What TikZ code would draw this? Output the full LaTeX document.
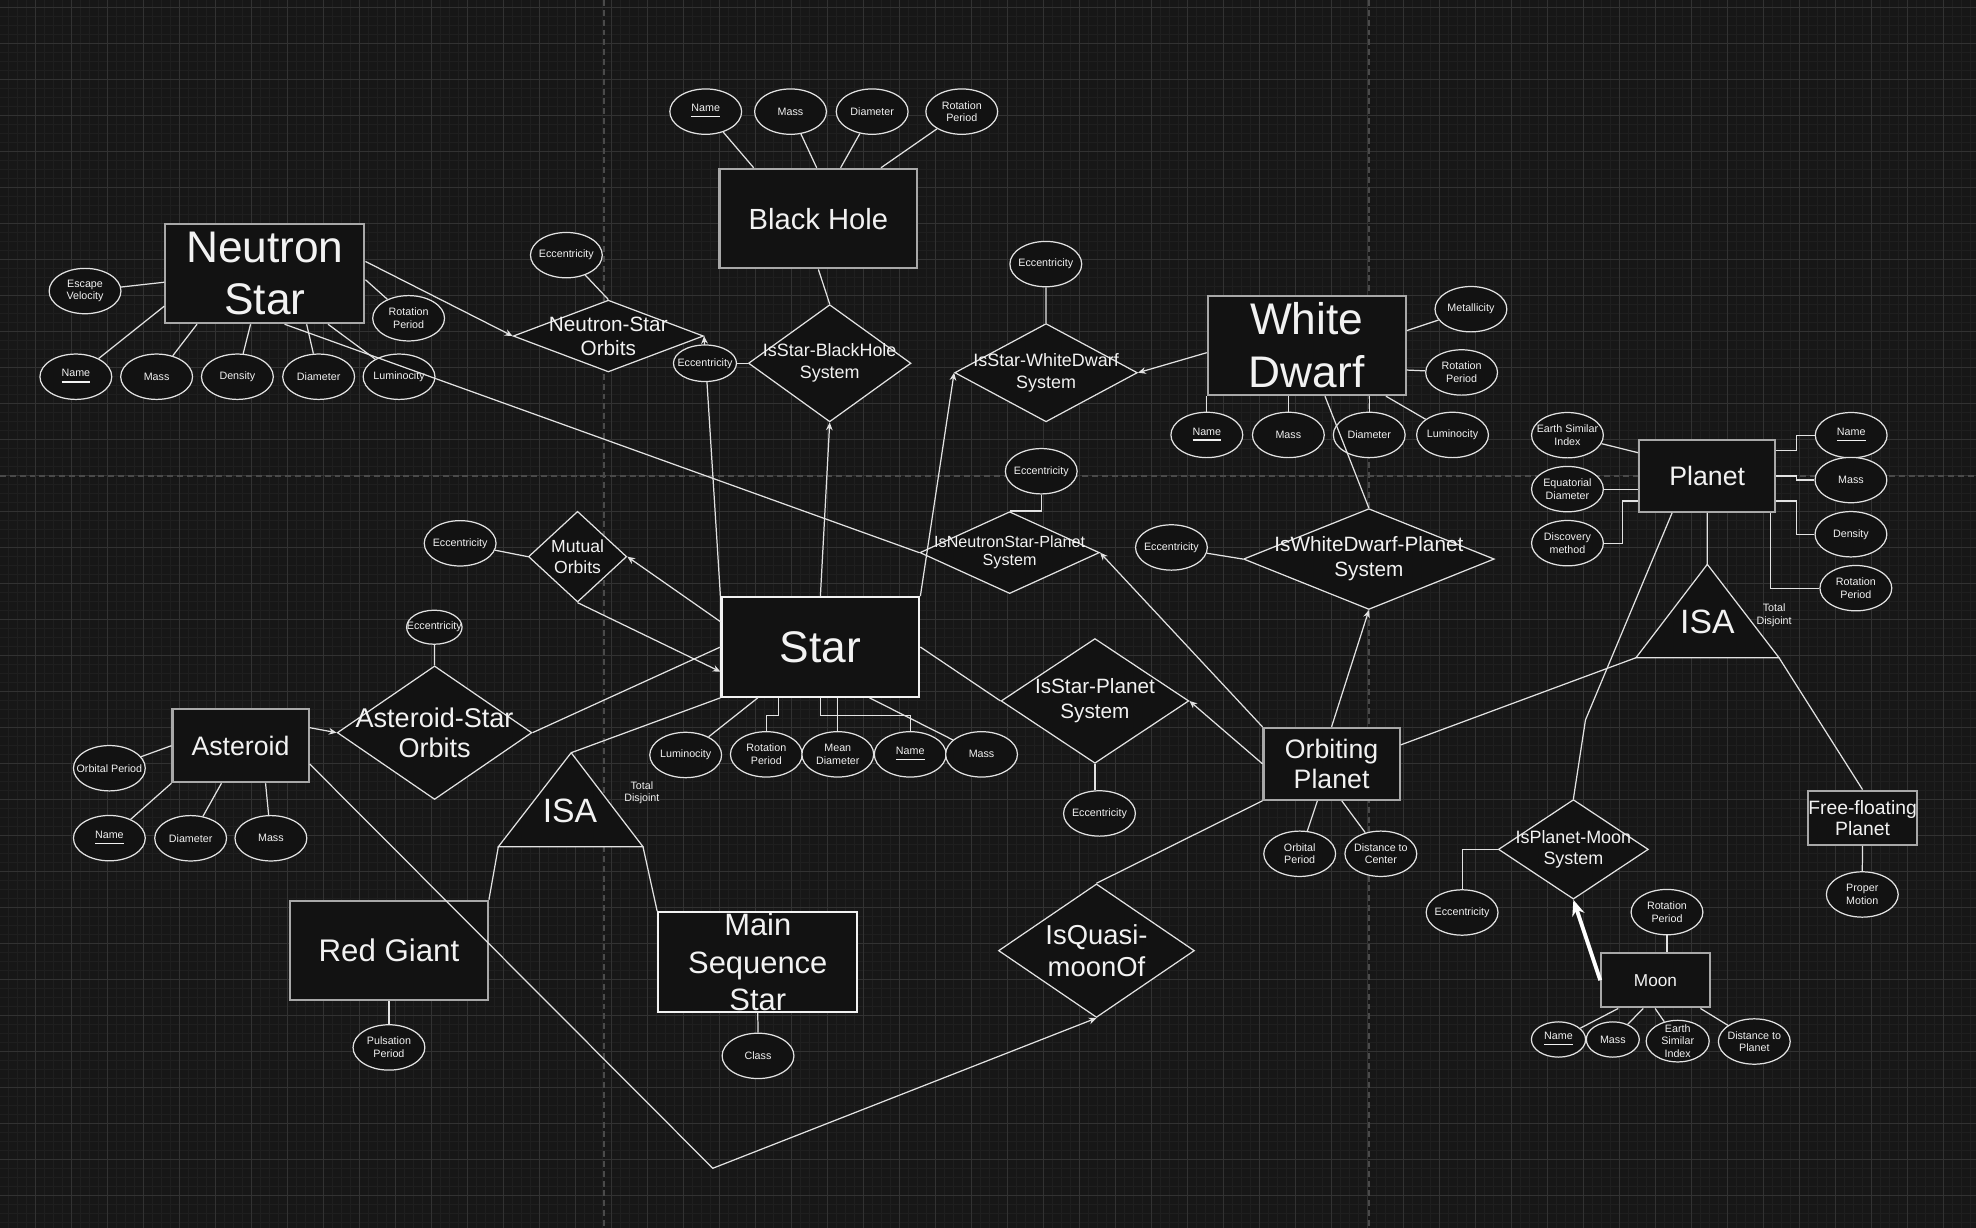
\documentclass[tikz,border=0pt]{standalone}
\usepackage{fontspec}
\setmainfont{Liberation Sans}
\usetikzlibrary{shapes.geometric}
\usetikzlibrary{calc}
\usetikzlibrary{arrows.meta}

\definecolor{bgc}{HTML}{171717}
\definecolor{gridminor}{HTML}{1F1F1F}
\definecolor{gridmajor}{HTML}{323232}
\definecolor{pagebrk}{HTML}{4A4A4A}
\definecolor{shapefill}{HTML}{121212}
\definecolor{linec}{HTML}{E2E2E2}
\definecolor{entline}{HTML}{A8A8A8}
\definecolor{txtc}{HTML}{F2F2F2}

\newlength{\px}
\setlength{\px}{0.0126cm}

\tikzset{
    con/.style={draw=linec, line width=0.35pt},
    arr/.style={con, -{Stealth[length=2.2pt,width=1.9pt]}},
    ent/.style 2 args={rectangle, draw=entline, fill=shapefill, line width=0.6pt,
        minimum width=#1\px, minimum height=#2\px, inner sep=0},
    rel/.style 2 args={diamond, draw=linec, fill=shapefill, line width=0.35pt,
        minimum width=#1\px, minimum height=#2\px, inner sep=0},
    att/.style 2 args={ellipse, draw=linec, fill=shapefill, line width=0.35pt,
        minimum width=#1\px, minimum height=#2\px, inner sep=0},
    attr/.style={att={57}{36}},
    txt/.style 2 args={text=txtc, align=center, inner sep=0, font=\fontsize{#1}{#2}\selectfont},
    atxt/.style={txt={3.05}{3.6}},
}

\begin{document}
\begin{tikzpicture}[x=0.0126cm, y=-0.0126cm]

    \useasboundingbox (0,0) rectangle (1568.25,974.6);
    \fill[bgc] (0,0) rectangle (1568.25,974.6);

    % grid
    \foreach \i in {0,...,218} {
        \draw[gridminor, line width=0.28pt] (6.9+\i*7.1429,0) -- (6.9+\i*7.1429,974.6);
    }
    \foreach \j in {0,...,135} {
        \draw[gridminor, line width=0.28pt] (0,5.8+\j*7.1429) -- (1568.25,5.8+\j*7.1429);
    }
    \foreach \i in {0,...,53} {
        \draw[gridmajor, line width=0.3pt] (28.33+\i*28.571,0) -- (28.33+\i*28.571,974.6);
    }
    \foreach \j in {0,...,33} {
        \draw[gridmajor, line width=0.3pt] (0,5.8+\j*28.571) -- (1568.25,5.8+\j*28.571);
    }
    \draw[pagebrk, line width=0.55pt, dash pattern=on 1.7pt off 1.1pt] (479.1,0) -- (479.1,974.6);
    \draw[pagebrk, line width=0.55pt, dash pattern=on 1.7pt off 1.1pt] (1086.6,0) -- (1086.6,974.6);
    \draw[pagebrk, line width=0.55pt, dash pattern=on 1.7pt off 1.1pt] (0,377.8) -- (1568.25,377.8);

    % entities
    \node[ent={158}{79}, label={[txt={12.6}{15}]center:{Neutron\\Star}}] (ns) at (210.2,217) {};
    \node[ent={157}{79}, label={[txt={8.3}{10}]center:{Black Hole}}] (bh) at (649.5,173.5) {};
    \node[ent={157}{79}, label={[txt={12.6}{15}]center:{White\\Dwarf}}] (wd) at (1037.1,274.1) {};
    \node[ent={157}{79}, draw=txtc, label={[txt={12.6}{15}]center:{Star}}] (star) at (651.1,513.5) {};
    \node[ent={108}{58}, label={[txt={7.6}{9}]center:{Asteroid}}] (ast) at (190.9,591.8) {};
    \node[ent={157}{79}, label={[txt={8.9}{10}]center:{Red Giant}}] (rg) at (308.7,754.4) {};
    \node[ent={158}{79}, draw=txtc, label={[txt={8.8}{10.6}]center:{Main\\Sequence\\Star}}] (ms) at (601.4,763.5) {};
    \node[ent={108}{57}, label={[txt={7.6}{8.5}]center:{Orbiting\\Planet}}] (op) at (1056.8,606.2) {};
    \node[ent={108}{57}, label={[txt={7.6}{9}]center:{Planet}}] (pl) at (1354.9,377.7) {};
    \node[ent={86}{43}, label={[txt={5.5}{6}]center:{Free-floating\\Planet}}] (ffp) at (1478.2,649) {};
    \node[ent={86}{43}, label={[txt={4.9}{6}]center:{Moon}}] (moon) at (1313.9,778) {};

    % relationships
    \node[rel={151}{57}, label={[txt={5.9}{6.8}]center:{Neutron-Star\\Orbits}}] (nso) at (482.8,266.7) {};
    \node[rel={129}{93}, label={[txt={5.1}{6.2}]center:{IsStar-BlackHole\\System}}] (isbh) at (658.5,288.3) {};
    \node[rel={145}{78}, label={[txt={5.1}{6.2}]center:{IsStar-WhiteDwarf\\System}}] (iswd) at (830.2,295.8) {};
    \node[rel={142.5}{65}, label={[txt={4.6}{5.2}]center:{IsNeutronStar-Planet\\System}}] (isnp) at (801.3,438.6) {};
    \node[rel={78}{72}, label={[txt={5}{6.2}]center:{Mutual\\Orbits}}] (mo) at (458.4,441.8) {};
    \node[rel={154.5}{106}, label={[txt={7.7}{8.6}]center:{Asteroid-Star\\Orbits}}] (aso) at (344.9,581.5) {};
    \node[rel={149}{99}, label={[txt={5.9}{7.1}]center:{IsStar-Planet\\System}}] (isp) at (869,556.3) {};
    \node[rel={199}{80}, label={[txt={5.9}{7.1}]center:{IsWhiteDwarf-Planet\\System}}] (iswdp) at (1086.4,443.7) {};
    \node[rel={155.5}{106}, label={[txt={7.8}{9.3}]center:{IsQuasi-\\moonOf}}] (qm) at (870.2,754.5) {};
    \node[rel={119}{79}, label={[txt={5.1}{6.2}]center:{IsPlanet-Moon\\System}}] (ipm) at (1248.7,674.1) {};

    % ISA triangles
    \draw[linec, fill=shapefill, line width=0.35pt] (453.3,597.4) coordinate (isaStarTop)
        -- (510.3,672) coordinate (isaStarR) -- (395.5,672) coordinate (isaStarL) -- cycle;
    \node[txt={9.6}{11}] (isaStarT) at (452.4,643.4) {ISA};
    \node[txt={3.05}{3.6}] (isaStarD) at (509.4,629.1) {Total\\Disjoint};
    \draw[linec, fill=shapefill, line width=0.35pt] (1355,447.9) coordinate (isaPlTop)
        -- (1411.9,522) coordinate (isaPlR) -- (1298.4,522) coordinate (isaPlL) -- cycle;
    \node[txt={9.6}{11}] (isaPlT) at (1355,493.4) {ISA};
    \node[txt={3.05}{3.6}] (isaPlD) at (1408,488.1) {Total\\Disjoint};

    % line that runs under the eccentricity of IsStar-BlackHole
    \draw[arr] (star.north west) -- (nso.east);

    % attributes
    \node[attr, label={[atxt]center:{Escape\\Velocity}}] (nsEsc) at (67.5,231) {};
    \node[attr, label={[atxt]center:{Rotation\\Period}}] (nsRot) at (324.3,252.6) {};
    \node[attr, label={[atxt]center:{\underline{Name}}}] (nsName) at (60.2,299) {};
    \node[attr, label={[atxt]center:{Mass}}] (nsMass) at (124.3,299) {};
    \node[attr, label={[atxt]center:{Density}}] (nsDens) at (188.4,299) {};
    \node[attr, label={[atxt]center:{Diameter}}] (nsDiam) at (252.9,299) {};
    \node[attr, label={[atxt]center:{Luminocity}}] (nsLum) at (316.7,299) {};
    \node[attr, label={[atxt]center:{Eccentricity}}] (nsoEcc) at (449.5,202.5) {};

    \node[attr, label={[atxt]center:{\underline{Name}}}] (bhName) at (560.1,88.6) {};
    \node[attr, label={[atxt]center:{Mass}}] (bhMass) at (627.4,88.6) {};
    \node[attr, label={[atxt]center:{Diameter}}] (bhDiam) at (692.2,88.6) {};
    \node[attr, label={[atxt]center:{Rotation\\Period}}] (bhRot) at (763.3,88.6) {};
    \node[att={50}{29}, label={[atxt]center:{Eccentricity}}] (isbhEcc) at (559.5,288.3) {};
    \node[attr, label={[atxt]center:{Eccentricity}}] (iswdEcc) at (830,209.6) {};

    \node[attr, label={[atxt]center:{Metallicity}}] (wdMet) at (1167.4,245.4) {};
    \node[attr, label={[atxt]center:{Rotation\\Period}}] (wdRot) at (1160,295.6) {};
    \node[attr, label={[atxt]center:{\underline{Name}}}] (wdName) at (957.8,345.2) {};
    \node[attr, label={[atxt]center:{Mass}}] (wdMass) at (1022.5,345.2) {};
    \node[attr, label={[atxt]center:{Diameter}}] (wdDiam) at (1086.7,345.2) {};
    \node[attr, label={[atxt]center:{Luminocity}}] (wdLum) at (1152.8,345.2) {};

    \node[attr, label={[atxt]center:{Eccentricity}}] (isnpEcc) at (826.4,374) {};
    \node[attr, label={[atxt]center:{Eccentricity}}] (iswdpEcc) at (929.7,434.5) {};
    \node[attr, label={[atxt]center:{Eccentricity}}] (moEcc) at (365.2,431.2) {};
    \node[att={44}{27}, label={[atxt]center:{Eccentricity}}] (asoEcc) at (344.7,497.8) {};
    \node[attr, label={[atxt]center:{Eccentricity}}] (ispEcc) at (872.6,645.6) {};

    \node[attr, label={[atxt]center:{Luminocity}}] (stLum) at (544.2,599.2) {};
    \node[attr, label={[atxt]center:{Rotation\\Period}}] (stRot) at (608.2,598.7) {};
    \node[attr, label={[atxt]center:{Mean\\Diameter}}] (stMean) at (664.9,598.7) {};
    \node[attr, label={[atxt]center:{\underline{Name}}}] (stName) at (722.4,598.7) {};
    \node[attr, label={[atxt]center:{Mass}}] (stMass) at (779,598.7) {};

    \node[attr, label={[atxt]center:{Orbital Period}}] (astOrb) at (86.8,609.7) {};
    \node[attr, label={[atxt]center:{\underline{Name}}}] (astName) at (86.8,665.2) {};
    \node[attr, label={[atxt]center:{Diameter}}] (astDiam) at (151.3,665.3) {};
    \node[attr, label={[atxt]center:{Mass}}] (astMass) at (215,665.3) {};
    \node[attr, label={[atxt]center:{Pulsation\\Period}}] (rgPuls) at (308.7,831.3) {};
    \node[attr, label={[atxt]center:{Class}}] (msClass) at (601.6,838) {};

    \node[attr, label={[atxt]center:{Orbital\\Period}}] (opOrb) at (1031.5,677.6) {};
    \node[attr, label={[atxt]center:{Distance to\\Center}}] (opDist) at (1095.9,677.6) {};

    \node[attr, label={[atxt]center:{Earth Similar\\Index}}] (plESI) at (1244,345.4) {};
    \node[attr, label={[atxt]center:{Equatorial\\Diameter}}] (plEqD) at (1244,388.2) {};
    \node[attr, label={[atxt]center:{Discovery\\method}}] (plDisc) at (1244,431.1) {};
    \node[attr, label={[atxt]center:{\underline{Name}}}] (plName) at (1469.2,345.4) {};
    \node[attr, label={[atxt]center:{Mass}}] (plMass) at (1469,381) {};
    \node[attr, label={[atxt]center:{Density}}] (plDens) at (1469,424) {};
    \node[attr, label={[atxt]center:{Rotation\\Period}}] (plRot) at (1472.9,466.8) {};

    \node[attr, label={[atxt]center:{Proper\\Motion}}] (ffpPM) at (1478,709.9) {};
    \node[attr, label={[atxt]center:{Eccentricity}}] (ipmEcc) at (1160.4,724.2) {};
    \node[attr, label={[atxt]center:{Rotation\\Period}}] (mnRot) at (1323,723.9) {};
    \node[att={43}{28}, label={[atxt]center:{\underline{Name}}}] (mnName) at (1236.9,825) {};
    \node[att={42}{28}, label={[atxt]center:{Mass}}] (mnMass) at (1280,825) {};
    \node[att={50}{33}, label={[atxt]center:{Earth\\Similar\\Index}}] (mnESI) at (1331.5,826.3) {};
    \node[attr, label={[atxt]center:{Distance to\\Planet}}] (mnDist) at (1392.3,826.6) {};

    \coordinate (qmBend) at (565.7,927.2);
    \coordinate (ipmBend) at (1258.3,571.4);

    % Neutron Star
    \draw[con] (nsEsc) -- ($(ns.west)+(0,7)$);
    \draw[con] (nsRot) -- ($(ns.east)+(0,5)$);
    \draw[con] (nsName) -- ($(ns.west)+(0,26)$);
    \draw[con] (nsMass) -- ($(ns.south west)+(26,0)$);
    \draw[con] (nsDens) -- ($(ns.south west)+(68.5,0)$);
    \draw[con] (nsDiam) -- ($(ns.south west)+(113,0)$);
    \draw[con] (nsLum) -- ($(ns.south west)+(130,0)$);
    \draw[arr] ($(ns.east)+(0,-9.5)$) -- (nso.west);
    \draw[con] ($(ns.south west)+(95.5,0)$) -- (isnp.west);
    \draw[con] (nsoEcc) -- (nso.north);

    % Black Hole
    \draw[con] (bhName) -- ($(bh.north west)+(28,0)$);
    \draw[con] (bhMass) -- ($(bh.north west)+(78,0)$);
    \draw[con] (bhDiam) -- ($(bh.north west)+(97,0)$);
    \draw[con] (bhRot) -- ($(bh.north west)+(129,0)$);
    \draw[con] (bh.south) -- (isbh.north);
    \draw[con] (isbhEcc) -- (isbh.west);
    \draw[arr] (star.north) -- (isbh.south);

    % White Dwarf
    \draw[con] (iswdEcc) -- (iswd.north);
    \draw[arr] ($(wd.west)+(0,5.8)$) -- (iswd.east);
    \draw[arr] (star.north east) -- (iswd.west);
    \draw[con] (wdMet) -- ($(wd.east)+(0,-11.7)$);
    \draw[con] (wdRot) -- ($(wd.east)+(0,19.6)$);
    \draw[con] (wdName.north) -- (wdName.north |- wd.south);
    \draw[con] (wdMass.north) -- (wdMass.north |- wd.south);
    \draw[con] (wdDiam.north) -- (wdDiam.north |- wd.south);
    \draw[con] (wdLum) -- ($(wd.south east)+(-16.5,0)$);
    \draw[con] ($(wd.south west)+(93.8,0)$) -- (iswdp.north);
    \draw[con] (iswdpEcc) -- (iswdp.west);
    \draw[arr] (op.north) -- (iswdp.south);

    % Star
    \draw[con] (isnpEcc.south) |- (isnp.north);
    \draw[arr] (op.north west) -- (isnp.east);
    \draw[con] (star.east) -- (isp.west);
    \draw[con] (isp.south) -- (isp.south |- ispEcc.north);
    \draw[arr] (op.west) -- (isp.east);
    \draw[con] (stLum) -- ($(star.south west)+(29.7,0)$);
    \draw[con] (stRot.north) |- ($(star.south west)+(45.8,14)$) -- ($(star.south west)+(45.8,0)$);
    \draw[con] (stMean.north) -- (stMean.north |- star.south);
    \draw[con] (star.south) -- ++(0,14) -| (stName.north);
    \draw[con] (stMass) -- ($(star.south west)+(118.3,0)$);
    \draw[con] (moEcc) -- (mo.west);
    \draw[arr] ($(star.west)+(0,-20.1)$) -- (mo.east);
    \draw[arr] (mo.south) -- ($(star.west)+(0,19.6)$);
    \draw[con] (star.west) -- (aso.east);
    \draw[con] (star.south west) -- (isaStarTop);
    \draw[con] (isaStarL) -- (rg.north east);
    \draw[con] (isaStarR) -- (ms.north west);
    \draw[con] (rg.south) -- (rgPuls.north);
    \draw[con] (ms.south) -- (msClass.north);

    % Asteroid
    \draw[con] (asoEcc) -- (aso.north);
    \draw[arr] ($(ast.east)+(0,-14.3)$) -- (aso.west);
    \draw[con] (astOrb) -- (ast.west);
    \draw[con] (astName) -- (ast.south west);
    \draw[con] (astDiam) -- ($(ast.south west)+(39.7,0)$);
    \draw[con] (astMass) -- ($(ast.south west)+(74.7,0)$);
    \draw[arr] ($(ast.east)+(0,14.5)$) -- (qmBend) -- (qm.south);

    % Orbiting Planet
    \draw[con] (opOrb) -- ($(op.south west)+(43.6,0)$);
    \draw[con] (opDist) -- ($(op.south west)+(62.9,0)$);
    \draw[con] ($(op.east)+(0,-15)$) -- (isaPlL);
    \draw[con] (op.south west) -- (qm.north);

    % Planet
    \draw[con] (plESI) -- ($(pl.west)+(0,-18.4)$);
    \draw[con] (plEqD.east) -- (plEqD.east -| pl.west);
    \draw[con] (plDisc.east) -- ++(14.5,0) |- ($(pl.west)+(0,19.9)$);
    \draw[con] ($(pl.east)+(0,-20)$) -- ++(15.9,0) |- (plName.west);
    \draw[con] (pl.east) -- ++(15.9,0) |- (plMass.west);
    \draw[con] ($(pl.east)+(0,19.9)$) -- ++(15.9,0) |- (plDens.west);
    \draw[con] ($(pl.south east)+(-4.5,0)$) |- (plRot.west);
    \draw[con] (pl.south) -- (isaPlTop);
    \draw[con] ($(pl.south west)+(27,0)$) -- (ipmBend) -- (ipm.north);
    \draw[con] (isaPlR) -- (ffp.north);
    \draw[con] (ffp.south) -- (ffpPM.north);

    % Moon
    \draw[con] (ipmEcc.north) |- (ipm.west);
    \draw[white, line width=1.1pt, -{Stealth[length=4.5pt,width=3.6pt]}] (moon.west) -- (ipm.south);
    \draw[con] (mnRot.south) -- (mnRot.south |- moon.north);
    \draw[con] (mnName) -- ($(moon.south west)+(14.3,0)$);
    \draw[con] (mnMass) -- ($(moon.south west)+(34.1,0)$);
    \draw[con] (mnESI) -- ($(moon.south west)+(43.5,0)$);
    \draw[con] (mnDist) -- ($(moon.south east)+(-8.2,0)$);

\end{tikzpicture}
\end{document}
